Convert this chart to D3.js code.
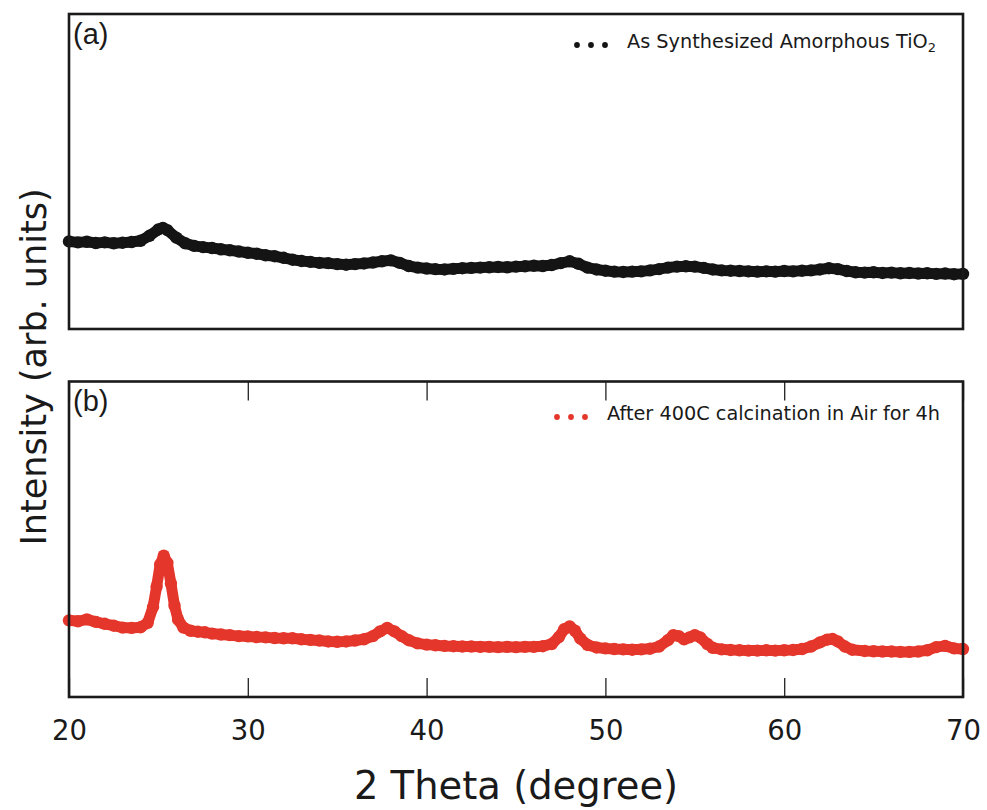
<!DOCTYPE html>
<html>
<head>
<meta charset="utf-8">
<script src="https://cdn.jsdelivr.net/npm/d3@7"></script>
<style>
  body { margin: 0; background: #fff; }
  svg { display: block; }
</style>
</head>
<body>
<svg id="xrd" width="987" height="810"></svg>
<script>
var colors = ['#141414', '#e5362b'];
var labels = ['As Synthesized Amorphous TiO', 'After 400C calcination in Air for 4h'];
var panelTags = ['(a)', '(b)'];
var xTicks = [20, 30, 40, 50, 60, 70];

// panel (a): amorphous (intensity in arb. units, 0-100 of panel height)
var thetaA = [20, 20.5, 21, 21.5, 22, 22.5, 23, 23.5, 24, 24.5, 25, 25.25, 25.5, 26, 26.5, 27, 27.5, 28, 28.5, 29,
  29.5, 30, 30.5, 31, 31.5, 32, 32.5, 33, 33.5, 34, 34.5, 35, 35.5, 36, 36.5, 37, 37.5, 38, 38.5, 39,
  39.5, 40, 40.5, 41, 41.5, 42, 42.5, 43, 43.5, 44, 44.5, 45, 45.5, 46, 46.5, 47, 47.5, 48, 48.5, 49,
  49.5, 50, 50.5, 51, 51.5, 52, 52.5, 53, 53.5, 54, 54.5, 55, 55.5, 56, 56.5, 57, 57.5, 58, 58.5, 59,
  59.5, 60, 60.5, 61, 61.5, 62, 62.5, 63, 63.5, 64, 64.5, 65, 65.5, 66, 66.5, 67, 67.5, 68, 68.5, 69, 69.5, 70];
var intensityA = [27.8, 27.5, 27.7, 27.3, 27.5, 27.2, 27.4, 27.6, 28.0, 29.6, 31.6, 32.1, 31.4, 29.0, 27.2, 26.4, 26.0, 25.7, 25.3, 25.0,
  24.6, 24.2, 23.9, 23.4, 23.1, 22.6, 22.0, 21.6, 21.3, 21.0, 20.9, 20.6, 20.4, 20.6, 20.8, 21.1, 21.5, 21.8, 21.0, 20.0,
  19.5, 19.2, 19.0, 18.9, 19.1, 19.3, 19.4, 19.5, 19.6, 19.7, 19.6, 19.8, 19.9, 20.1, 20.0, 20.3, 20.9, 21.5, 20.7, 19.5,
  18.9, 18.5, 18.2, 18.1, 18.2, 18.3, 18.6, 19.0, 19.5, 19.8, 19.9, 19.8, 19.4, 18.9, 18.6, 18.5, 18.4, 18.3, 18.2, 18.3,
  18.2, 18.4, 18.3, 18.5, 18.6, 18.9, 19.3, 19.0, 18.4, 18.0, 17.9, 18.0, 17.8, 17.9, 17.7, 17.8, 17.6, 17.7, 17.5, 17.6, 17.4, 17.5];

// panel (b): after calcination (anatase peaks)
var thetaB = [20, 20.5, 21, 21.5, 22, 22.5, 23, 23.5, 24, 24.4, 24.7, 24.9, 25.1, 25.3, 25.5, 25.7, 25.9, 26.1, 26.4, 26.8,
  27.2, 27.6, 28, 28.5, 29, 29.5, 30, 30.5, 31, 31.5, 32, 32.5, 33, 33.5, 34, 34.5, 35, 35.5, 36, 36.5,
  37, 37.4, 37.8, 38.2, 38.6, 39, 39.5, 40, 40.5, 41, 41.5, 42, 42.5, 43, 43.5, 44, 44.5, 45, 45.5, 46,
  46.5, 47, 47.4, 47.7, 48, 48.3, 48.6, 49, 49.5, 50, 50.5, 51, 51.5, 52, 52.5, 53, 53.5, 53.8, 54.1, 54.4,
  54.7, 55, 55.3, 55.7, 56, 56.5, 57, 57.5, 58, 58.5, 59, 59.5, 60, 60.5, 61, 61.5, 62, 62.4, 62.7, 63,
  63.4, 63.8, 64.5, 65, 65.5, 66, 66.5, 67, 67.5, 68, 68.5, 69, 69.5, 70];
var intensityB = [24.3, 24.0, 24.6, 23.8, 23.2, 22.6, 22.0, 21.9, 22.1, 23.5, 28.5, 35.0, 42.0, 44.8, 42.5, 36.0, 29.0, 24.5, 22.0, 21.0,
  20.7, 20.5, 20.1, 19.8, 19.6, 19.3, 19.2, 19.0, 18.9, 18.7, 18.6, 18.6, 18.3, 18.1, 17.9, 17.6, 17.5, 17.6, 17.9, 18.3,
  19.3, 20.8, 21.9, 20.8, 19.3, 18.0, 17.0, 16.6, 16.4, 16.2, 16.1, 16.0, 16.0, 15.9, 15.9, 15.8, 15.9, 15.8, 15.9, 15.9,
  16.1, 16.8, 19.0, 21.5, 22.4, 21.0, 18.5, 16.5, 15.7, 15.4, 15.2, 15.1, 15.0, 15.1, 15.3, 16.0, 18.0, 19.6, 19.3, 18.3,
  18.9, 19.6, 18.9, 16.8, 15.6, 15.1, 14.9, 14.8, 14.7, 14.7, 14.8, 14.7, 14.8, 14.9, 15.2, 16.0, 17.3, 18.2, 18.4, 17.6,
  16.0, 15.0, 14.6, 14.5, 14.4, 14.4, 14.3, 14.3, 14.4, 14.8, 15.8, 16.2, 15.4, 15.2];

var series = [
  thetaA.map(function(t, i) { return {x: t, y: intensityA[i]}; }),
  thetaB.map(function(t, i) { return {x: t, y: intensityB[i]}; })
];

var svg = d3.select('svg#xrd');
var left = 69, right = 963;
var panels = [{top: 14, bottom: 329}, {top: 381.5, bottom: 697}];

var x = d3.scaleLinear().domain([20, 70]).range([left, right]);

panels.forEach(function(p, k) {
  var y = d3.scaleLinear().domain([0, 100]).range([p.bottom, p.top]);
  var g = svg.append('g');

  var line = d3.line()
    .x(function(d) { return x(d.x); })
    .y(function(d) { return y(d.y); });

  // thick scatter band
  g.append('path')
    .datum(series[k])
    .attr('d', line)
    .attr('fill', 'none')
    .attr('stroke', colors[k])
    .attr('stroke-width', 11)
    .attr('stroke-linejoin', 'round')
    .attr('stroke-linecap', 'round');

  g.selectAll('circle.pt')
    .data(series[k])
    .join('circle')
    .attr('class', 'pt')
    .attr('cx', function(d) { return x(d.x); })
    .attr('cy', function(d) { return y(d.y); })
    .attr('r', 6.2)
    .attr('fill', colors[k]);

  // inward ticks only on the lower panel
  if (k === 1) {
    g.append('g')
      .attr('transform', 'translate(0,' + p.bottom + ')')
      .call(d3.axisTop(x).tickValues(xTicks).tickSize(19).tickFormat(''))
      .call(function(a) { a.select('.domain').remove(); a.selectAll('line').attr('stroke', '#222').attr('stroke-width', 1.3); });
    g.append('g')
      .attr('transform', 'translate(0,' + p.top + ')')
      .call(d3.axisBottom(x).tickValues(xTicks).tickSize(19).tickFormat(''))
      .call(function(a) { a.select('.domain').remove(); a.selectAll('line').attr('stroke', '#222').attr('stroke-width', 1.3); });
  }

  g.append('rect')
    .attr('x', left)
    .attr('y', p.top)
    .attr('width', right - left)
    .attr('height', p.bottom - p.top)
    .attr('fill', 'none')
    .attr('stroke', '#1a1a1a')
    .attr('stroke-width', 2.6);

  g.append('text')
    .attr('x', left + 4)
    .attr('y', p.top + 29.5)
    .attr('font-family', '"Liberation Sans", Arial, sans-serif')
    .attr('font-size', 29)
    .attr('fill', '#1a1a1a')
    .text(panelTags[k]);
});

// legends
var legendPos = [{x: 627, y: 48, dots: [577, 591, 605]}, {x: 607, y: 420, dots: [557, 571, 585]}];
legendPos.forEach(function(l, k) {
  svg.selectAll('circle.leg' + k)
    .data(l.dots)
    .join('circle')
    .attr('class', 'leg' + k)
    .attr('cx', function(d) { return d; })
    .attr('cy', l.y - 3)
    .attr('r', 2.9)
    .attr('fill', colors[k]);
  var t = svg.append('text')
    .attr('x', l.x)
    .attr('y', l.y)
    .attr('font-family', '"DejaVu Sans", sans-serif')
    .attr('font-size', 19.3)
    .attr('fill', '#1a1a1a')
    .text(labels[k]);
  if (k === 0) {
    t.append('tspan').attr('font-size', 13).attr('dy', 4).text('2');
  }
});

// x tick labels
svg.append('g')
  .attr('transform', 'translate(0,' + panels[1].bottom + ')')
  .call(d3.axisBottom(x).tickValues(xTicks).tickSize(0).tickPadding(23))
  .call(function(a) {
    a.select('.domain').remove();
    a.selectAll('text')
      .attr('font-family', '"DejaVu Sans", sans-serif')
      .attr('font-size', 27.5)
      .attr('fill', '#1a1a1a');
  });

svg.append('text')
  .attr('x', (left + right) / 2)
  .attr('y', 799)
  .attr('text-anchor', 'middle')
  .attr('font-family', '"DejaVu Sans", sans-serif')
  .attr('font-size', 38.5)
  .attr('fill', '#1a1a1a')
  .text('2 Theta (degree)');

svg.append('text')
  .attr('transform', 'translate(46,367) rotate(-90)')
  .attr('text-anchor', 'middle')
  .attr('font-family', '"DejaVu Sans", sans-serif')
  .attr('font-size', 35)
  .attr('fill', '#1a1a1a')
  .text('Intensity (arb. units)');
</script>
</body>
</html>
